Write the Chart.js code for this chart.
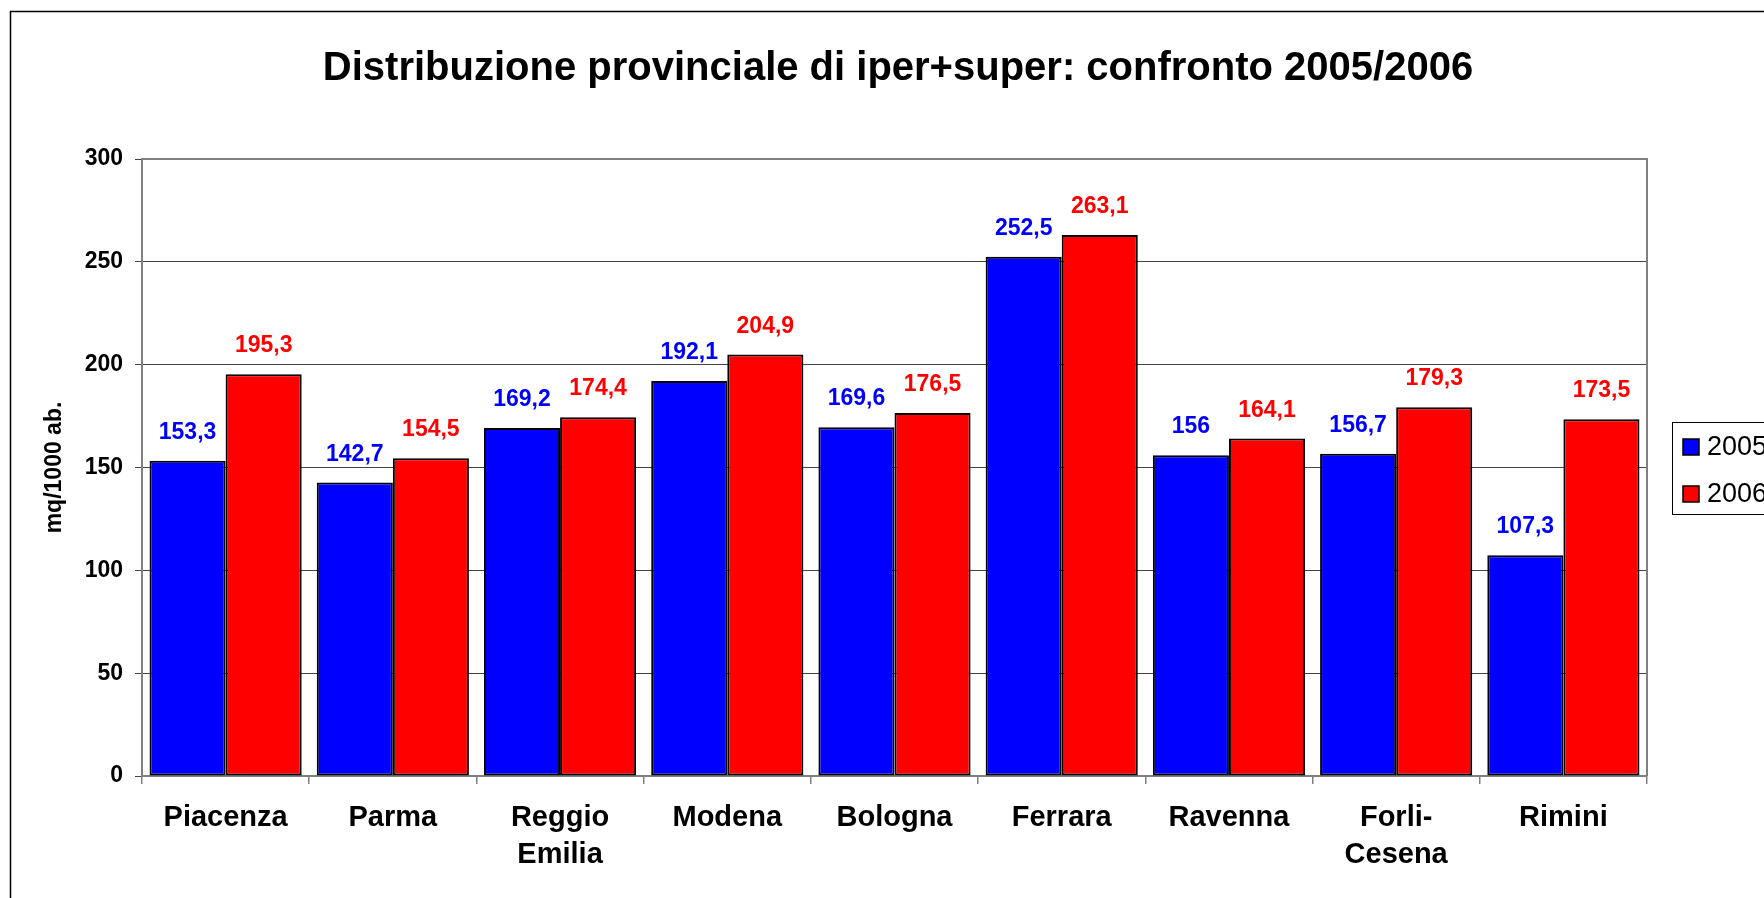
<!DOCTYPE html>
<html>
<head>
<meta charset="utf-8">
<script src="https://cdn.jsdelivr.net/npm/chart.js@4.4.1/dist/chart.umd.min.js"></script>
<style>
  html, body { margin: 0; padding: 0; background: #fff; overflow: hidden; }
  #wrap { position: absolute; left: 0; top: 0; width: 1764px; height: 898px; }
</style>
</head>
<body>
<div id="wrap"><canvas id="chart"></canvas></div>
<script>
// data
const provinces = [['Piacenza'], ['Parma'], ['Reggio', 'Emilia'], ['Modena'], ['Bologna'], ['Ferrara'], ['Ravenna'], ['Forli-', 'Cesena'], ['Rimini']];
const values2005 = [153.3, 142.7, 169.2, 192.1, 169.6, 252.5, 156, 156.7, 107.3];
const values2006 = [195.3, 154.5, 174.4, 204.9, 176.5, 263.1, 164.1, 179.3, 173.5];
const seriesNames = ['2005', '2006'];
const yTicks = [0, 50, 100, 150, 200, 250, 300];
const chartTitle = 'Distribuzione provinciale di iper+super: confronto 2005/2006';
const yTitle = 'mq/1000 ab.';

const FONT = '"Liberation Sans", Arial, sans-serif';

const decorations = {
  id: 'decorations',
  beforeDraw(chart) {
    const ctx = chart.ctx;
    ctx.save();
    ctx.fillStyle = '#fff';
    ctx.fillRect(0, 0, chart.width, chart.height);
    // outer chart frame (runs off the right/bottom edge like the original)
    ctx.strokeStyle = '#000';
    ctx.lineWidth = 1.5;
    ctx.strokeRect(10.5, 11.5, 1900, 1000);
    ctx.restore();
  },
  afterDatasetsDraw(chart) {
    const ctx = chart.ctx;
    ctx.save();
    ctx.font = 'bold 23px ' + FONT;
    ctx.textAlign = 'center';
    ctx.textBaseline = 'alphabetic';
    chart.data.datasets.forEach((ds, i) => {
      ctx.fillStyle = ds.backgroundColor;
      chart.getDatasetMeta(i).data.forEach((bar, j) => {
        ctx.fillText(String(ds.data[j]).replace('.', ','), bar.x, bar.y - 22);
      });
    });
    ctx.restore();
  },
  afterDraw(chart) {
    const ctx = chart.ctx;
    const a = chart.chartArea;
    ctx.save();
    // plot area outline
    ctx.strokeStyle = '#808080';
    ctx.lineWidth = 2;
    ctx.beginPath();
    ctx.moveTo(a.left, a.top);
    ctx.lineTo(a.right, a.top);
    ctx.lineTo(a.right, a.bottom);
    ctx.stroke();

    // title
    ctx.fillStyle = '#000';
    ctx.font = 'bold 40px ' + FONT;
    ctx.textAlign = 'center';
    ctx.textBaseline = 'alphabetic';
    ctx.fillText(chartTitle, 898, 80);

    // legend
    ctx.strokeStyle = '#000';
    ctx.lineWidth = 1;
    ctx.strokeRect(1672.5, 422.5, 200, 92);
    ctx.font = '27px ' + FONT;
    ctx.textAlign = 'left';
    chart.data.datasets.forEach((ds, i) => {
      const y = 439 + i * 47;
      ctx.fillStyle = ds.backgroundColor;
      ctx.fillRect(1683, y, 16, 16);
      ctx.lineWidth = 1.5;
      ctx.strokeRect(1683, y, 16, 16);
      ctx.fillStyle = '#000';
      ctx.fillText(ds.label, 1707, y + 16);
    });
    ctx.restore();
  }
};

new Chart(document.getElementById('chart'), {
  type: 'bar',
  data: {
    labels: provinces,
    datasets: [
      {
        label: seriesNames[0],
        data: values2005,
        backgroundColor: '#0000FF',
        borderColor: '#000',
        borderWidth: 2,
        borderSkipped: false
      },
      {
        label: seriesNames[1],
        data: values2006,
        backgroundColor: '#FF0000',
        borderColor: '#000',
        borderWidth: 2,
        borderSkipped: false
      }
    ]
  },
  options: {
    responsive: true,
    maintainAspectRatio: false,
    animation: false,
    devicePixelRatio: 1,
    layout: { padding: { top: 159, right: 117, left: 0, bottom: 0 } },
    datasets: { bar: { categoryPercentage: 0.91, barPercentage: 1 } },
    plugins: {
      legend: { display: false },
      tooltip: { enabled: false },
      title: { display: false }
    },
    scales: {
      x: {
        afterFit: (s) => { s.height = 122; },
        grid: {
          offset: true,
          drawOnChartArea: false,
          drawTicks: true,
          tickLength: 8,
          color: '#808080',
          lineWidth: 1.5
        },
        border: { color: '#808080', width: 2 },
        ticks: {
          color: '#000',
          padding: 15,
          maxRotation: 0,
          autoSkip: false,
          font: { family: FONT, size: 29, weight: 'bold', lineHeight: 1.28 }
        }
      },
      y: {
        min: 0,
        max: 300,
        afterFit: (s) => { s.width = 142; },
        afterBuildTicks: (s) => { s.ticks = yTicks.map(v => ({ value: v })); },
        grid: { color: '#444', lineWidth: 1, tickLength: 7 },
        border: { color: '#808080', width: 2 },
        ticks: {
          color: '#000',
          padding: 12,
          font: { family: FONT, size: 23, weight: 'bold' }
        },
        title: {
          display: true,
          text: yTitle,
          color: '#000',
          padding: { top: 41, bottom: 0 },
          font: { family: FONT, size: 23, weight: 'bold' }
        }
      }
    }
  },
  plugins: [decorations]
});
</script>
</body>
</html>
